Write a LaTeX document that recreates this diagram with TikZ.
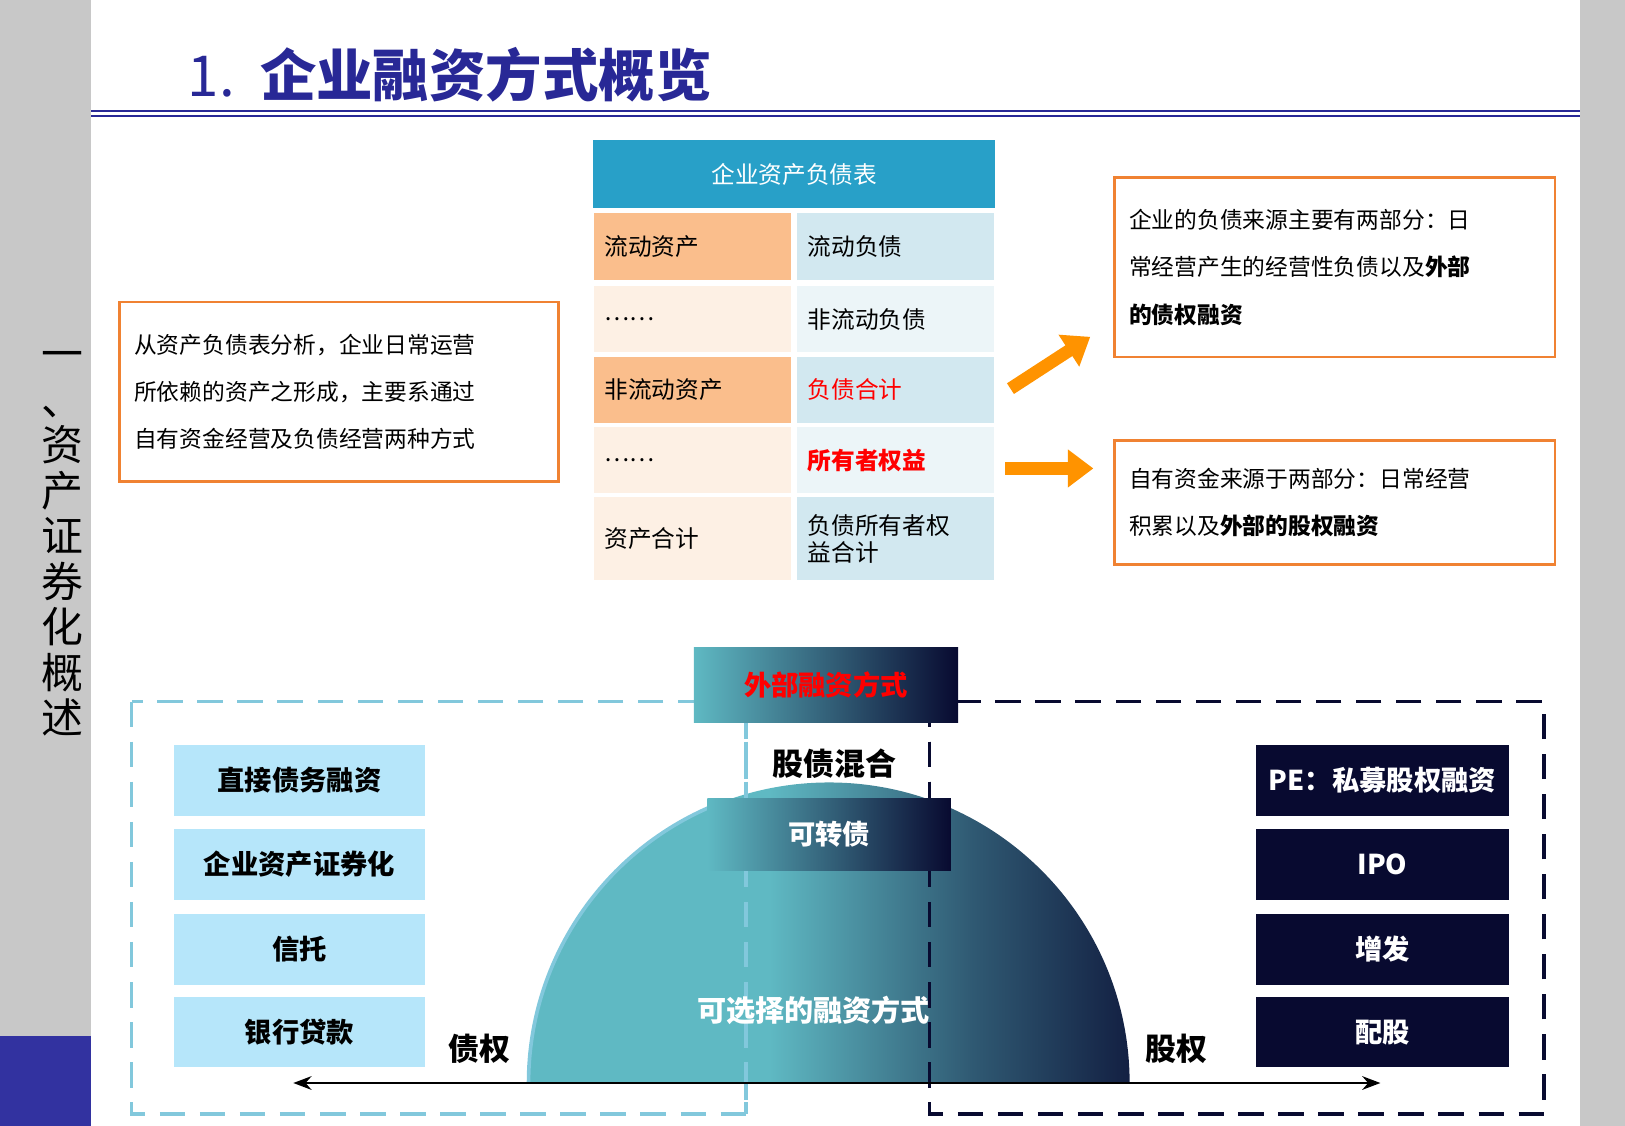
\documentclass[tikz,border=0pt]{standalone}
\usepackage{fontspec}
\setmainfont{Noto Sans CJK SC}
\usepackage{tikz}
\usetikzlibrary{positioning,arrows.meta,calc}
\definecolor{titleblue}{RGB}{40,40,150}
\definecolor{headteal}{RGB}{40,160,200}
\definecolor{cellorange}{RGB}{250,190,140}
\definecolor{cellcream}{RGB}{253,240,228}
\definecolor{cellblue}{RGB}{210,232,240}
\definecolor{cellpale}{RGB}{236,245,248}
\definecolor{boxorange}{RGB}{240,130,50}
\definecolor{lightbox}{RGB}{182,230,250}
\definecolor{navy}{RGB}{8,10,48}
\definecolor{dometeal}{RGB}{95,185,195}
\definecolor{dashblue}{RGB}{130,200,220}
\definecolor{sidegray}{RGB}{200,200,200}
\definecolor{sideblue}{RGB}{50,50,160}
\pgfdeclarehorizontalshading{domeshade}{100bp}{color(0bp)=(dometeal); color(45bp)=(dometeal); color(62bp)=(dometeal!45!navy); color(80bp)=(navy); color(100bp)=(navy)}

\begin{document}
\begin{tikzpicture}[x=0.02cm,y=-0.02cm,
    cell/.style={rectangle, minimum width=190*0.02cm, minimum height=64*0.02cm, inner sep=0pt, font=\fontsize{13}{15}\selectfont},
    notebox/.style={rectangle, draw=boxorange, line width=1.5pt, align=left, inner sep=8pt, font=\fontsize{12.5}{26}\selectfont},
    lightbtn/.style={rectangle, fill=lightbox, minimum width=242*0.02cm, minimum height=68*0.02cm, font=\fontsize{15}{17}\selectfont\bfseries},
    darkbtn/.style={rectangle, fill=navy, text=white, minimum width=244*0.02cm, minimum height=68*0.02cm, font=\fontsize{15}{17}\selectfont\bfseries},
    fatarrow/.style={-{Triangle[length=14pt,width=20pt]}, line width=7pt, draw=orange!85!yellow}
]
    \useasboundingbox (0,0) rectangle (1568,1086);
    % side bands
    \fill[sidegray] (0,0) rectangle (88,1086);
    \fill[sideblue] (0,1000) rectangle (88,1086);
    \fill[sidegray] (1525,0) rectangle (1568,1086);
    \node[align=center, font=\fontsize{23}{25}\selectfont] (side) at (60,525) {一\\、\\资\\产\\证\\券\\化\\概\\述};

    % title
    \node[anchor=west, text=titleblue, font=\fontsize{31}{35}\selectfont] (title) at (175,72) {1.\ \ \textbf{企业融资方式概览}};
    \draw[titleblue, line width=1pt] (88,107) -- (1525,107);
    \draw[titleblue, line width=1pt] (88,112) -- (1525,112);

    % balance sheet
    \node[rectangle, fill=headteal, text=white, minimum width=388*0.02cm, minimum height=66*0.02cm, font=\fontsize{13}{15}\selectfont] (head) at (766.5,168) {企业资产负债表};
    \node[cell, fill=cellorange, anchor=west, text width=170*0.02cm] (a1) at (573,238) {流动资产};
    \node[cell, fill=cellblue, anchor=west, text width=170*0.02cm] (l1) at (769,238) {流动负债};
    \node[cell, fill=cellcream, anchor=west, text width=170*0.02cm] (a2) at (573,308) {……};
    \node[cell, fill=cellpale, anchor=west, text width=170*0.02cm] (l2) at (769,308) {非流动负债};
    \node[cell, fill=cellorange, anchor=west, text width=170*0.02cm] (a3) at (573,376) {非流动资产};
    \node[cell, fill=cellblue, anchor=west, text width=170*0.02cm, text=red] (l3) at (769,376) {负债合计};
    \node[cell, fill=cellcream, anchor=west, text width=170*0.02cm] (a4) at (573,444) {……};
    \node[cell, fill=cellpale, anchor=west, text width=170*0.02cm, text=red, font=\fontsize{13}{15}\selectfont\bfseries] (l4) at (769,444) {所有者权益};
    \node[cell, fill=cellcream, anchor=west, text width=170*0.02cm, minimum height=80*0.02cm] (a5) at (573,520) {资产合计};
    \node[cell, fill=cellblue, anchor=west, text width=170*0.02cm, minimum height=80*0.02cm, align=left] (l5) at (769,520) {负债所有者权\\益合计};

    % notes
    \node[notebox, text width=395*0.02cm, minimum height=173*0.02cm] (leftnote) at (327,378) {从资产负债表分析，企业日常运营\\所依赖的资产之形成，主要系通过\\自有资金经营及负债经营两种方式};
    \node[notebox, text width=397*0.02cm, minimum height=173*0.02cm] (debtnote) at (1288,258) {企业的负债来源主要有两部分：日\\常经营产生的经营性负债以及\textbf{外部}\\\textbf{的债权融资}};
    \node[notebox, text width=397*0.02cm, minimum height=120*0.02cm] (equitynote) at (1288,485) {自有资金来源于两部分：日常经营\\积累以及\textbf{外部的股权融资}};
    \coordinate (d0) at (975,375);
    \coordinate (d1) at (1052,325);
    \coordinate (e0) at (970,452);
    \coordinate (e1) at (1055,452);
    \draw[fatarrow] (d0) -- (d1);
    \draw[fatarrow] (e0) -- (e1);

    % bottom frames
    \draw[dashblue, line width=2pt, dash pattern=on 14pt off 8pt] (127,677) rectangle (720,1075);
    \draw[navy, line width=2pt, dash pattern=on 14pt off 8pt] (897,677) rectangle (1490,1075);

    % dome
    \shade[shading=domeshade] (510,1045) arc (180:360:290) -- cycle;
    \draw[dashblue, line width=2pt] (510,1045) arc (180:250:290);
    \draw[dashblue, line width=2pt, dash pattern=on 14pt off 8pt] (720,677) -- (720,1075);
    \draw[navy, line width=2pt, dash pattern=on 14pt off 8pt] (897,677) -- (897,1075);
    \node[rectangle, left color=dometeal, right color=navy, minimum width=255*0.02cm, minimum height=72*0.02cm, text=red, font=\fontsize{15}{17}\selectfont\bfseries] (ext) at (797,661) {外部融资方式};
    \node[font=\fontsize{17}{19}\selectfont\bfseries] (mix) at (805,737) {股债混合};
    \node[rectangle, left color=dometeal, right color=navy, minimum width=235*0.02cm, minimum height=70*0.02cm, text=white, font=\fontsize{15}{17}\selectfont\bfseries] (cb) at (800,805) {可转债};
    \node[text=white, font=\fontsize{16}{18}\selectfont\bfseries] (choice) at (785,975) {可选择的融资方式};

    % financing boxes
    \node[lightbtn] (debt1) at (289,753) {直接债务融资};
    \node[lightbtn] (debt2) at (289,834) {企业资产证券化};
    \node[lightbtn] (debt3) at (289,916) {信托};
    \node[lightbtn] (debt4) at (289,996) {银行贷款};
    \node[darkbtn] (eq1) at (1334,753) {PE：私募股权融资};
    \node[darkbtn] (eq2) at (1334,834) {IPO};
    \node[darkbtn] (eq3) at (1334,916) {增发};
    \node[darkbtn] (eq4) at (1334,996) {配股};

    \node[font=\fontsize{17}{19}\selectfont\bfseries] (debtlbl) at (463,1012) {债权};
    \node[font=\fontsize{17}{19}\selectfont\bfseries] (eqlbl) at (1135,1012) {股权};
    \coordinate (axl) at (283,1045);
    \coordinate (axr) at (1332,1045);
    \draw[{Stealth[length=10pt]}-{Stealth[length=10pt]}, line width=1.2pt] (axl) -- (axr);
\end{tikzpicture}
\end{document}
